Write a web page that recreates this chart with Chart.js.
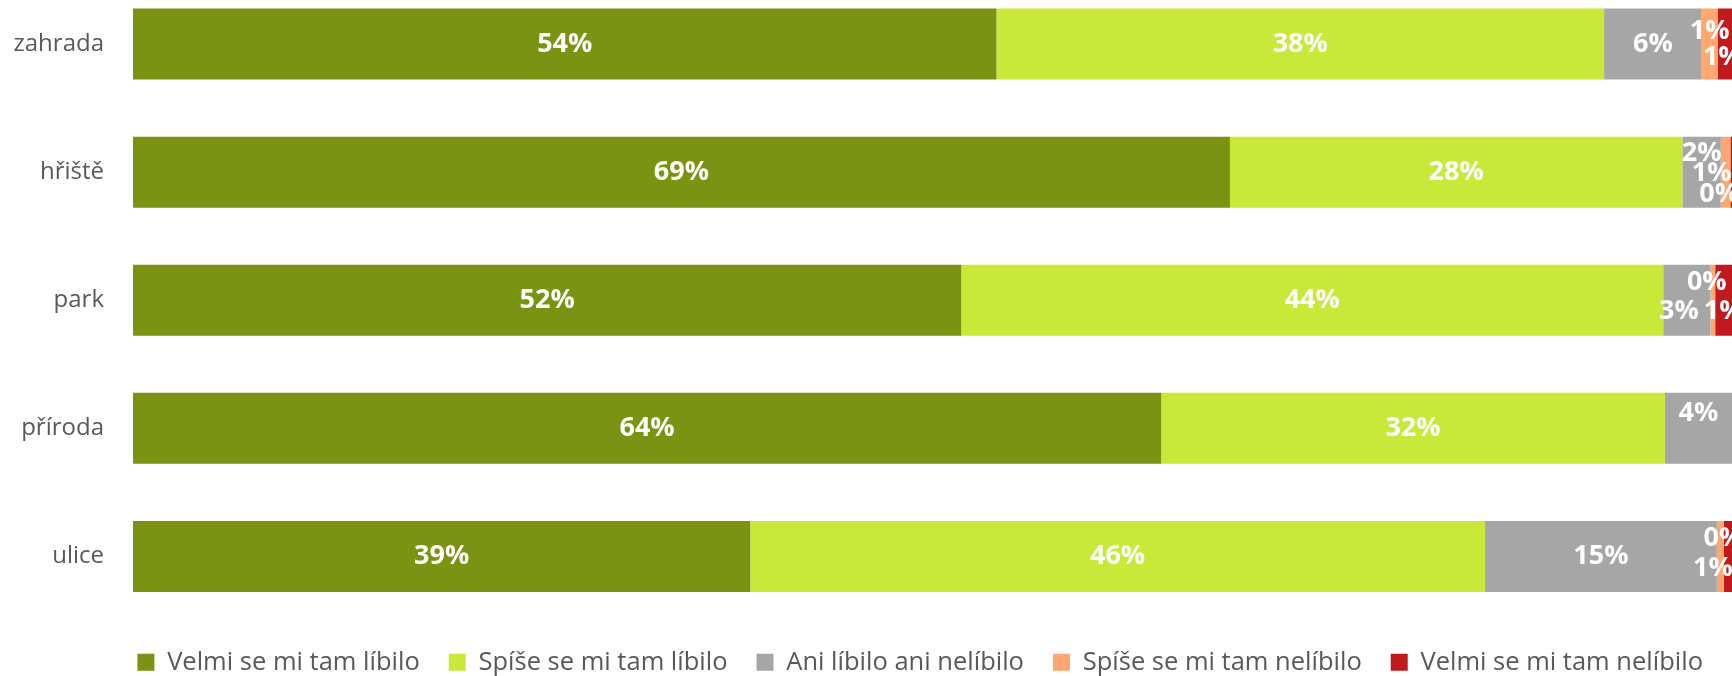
<!DOCTYPE html>
<html>
<head>
<meta charset="utf-8">
<script src="https://cdn.jsdelivr.net/npm/chart.js@4/dist/chart.umd.min.js"></script>
<style>
  html, body { margin: 0; padding: 0; background: #fff; overflow: hidden; }
  #page { position: relative; width: 1732px; height: 676px; overflow: hidden; }
  #wrap { position: absolute; left: 0; top: -20px; width: 1732px; height: 705px; }
</style>
</head>
<body>
<div id="page"><div id="wrap"><canvas id="chart"></canvas></div></div>
<script>
// categories and series (percent of answers)
var places = ['zahrada', 'hřiště', 'park', 'příroda', 'ulice'];
var seriesNames = ['Velmi se mi tam líbilo', 'Spíše se mi tam líbilo', 'Ani líbilo ani nelíbilo', 'Spíše se mi tam nelíbilo', 'Velmi se mi tam nelíbilo'];
var velmiLibilo    = [54.0, 68.6, 51.8, 64.3, 38.6];
var spiseLibilo    = [38.0, 28.3, 43.9, 31.5, 45.95];
var ani            = [6.1, 2.4, 2.95, 4.2, 14.5];
var spiseNelibilo  = [1.0, 0.6, 0.3, 0, 0.45];
var velmiNelibilo  = [0.9, 0.1, 1.05, 0, 0.5];

var colors = ['#7A9312', '#C8E83A', '#A6A6A6', '#FFA76E', '#C0191E'];

// where excel pushed the crowded small labels (dx, dy in px)
var labelShift = {
  'zahrada': {3: [0, -12.5], 4: [-2, 13.5]},
  'hřiště': {2: [0, -18.5], 3: [-14, 1.5], 4: [-12, 22.5]},
  'park': {2: [-8, 11], 3: [-6, -18], 4: [0, 11]},
  'příroda': {2: [0, -15.5]},
  'ulice': {3: [3, -18], 4: [-15, 12]}
};

var allValues = [velmiLibilo, spiseLibilo, ani, spiseNelibilo, velmiNelibilo];

var barLabels = {
  id: 'barLabels',
  afterDatasetsDraw(chart) {
    var ctx = chart.ctx;
    ctx.save();
    ctx.font = 'bold 27px "Open Sans"';
    ctx.fillStyle = '#fff';
    ctx.textAlign = 'center';
    ctx.textBaseline = 'middle';
    chart.data.datasets.forEach(function (ds, di) {
      var meta = chart.getDatasetMeta(di);
      meta.data.forEach(function (bar, i) {
        var v = ds.data[i];
        if (!v) return;
        var shift = (labelShift[places[i]] || {})[di] || [0, 0];
        var cx = (bar.x + bar.base) / 2 + shift[0];
        ctx.fillText(Math.round(v) + '%', cx, bar.y + shift[1]);
      });
    });
    ctx.restore();
  }
};

new Chart(document.getElementById('chart'), {
  type: 'bar',
  data: {
    labels: places,
    datasets: allValues.map(function (vals, k) {
      return {
        label: seriesNames[k],
        data: vals,
        backgroundColor: colors[k],
        borderWidth: 0,
        categoryPercentage: 1,
        barPercentage: 0.554
      };
    })
  },
  options: {
    indexAxis: 'y',
    responsive: true,
    maintainAspectRatio: false,
    animation: false,
    scales: {
      x: { stacked: true, min: 0, max: 100, display: false },
      y: {
        stacked: true,
        grid: { display: false, drawTicks: false },
        border: { display: false },
        ticks: { color: '#595959', padding: 29, font: { family: 'Open Sans', size: 24 } },
        afterFit: function (s) {
          s.width = 133;
          s.paddingTop = 0;
          s.paddingBottom = 0;
        }
      }
    },
    plugins: {
      legend: {
        position: 'bottom',
        align: 'end',
        labels: {
          boxWidth: 17,
          boxHeight: 17,
          padding: 29,
          color: '#595959',
          font: { family: 'Open Sans', size: 25.5 }
        }
      },
      tooltip: { enabled: false }
    }
  },
  plugins: [barLabels]
});
</script>
</body>
</html>
